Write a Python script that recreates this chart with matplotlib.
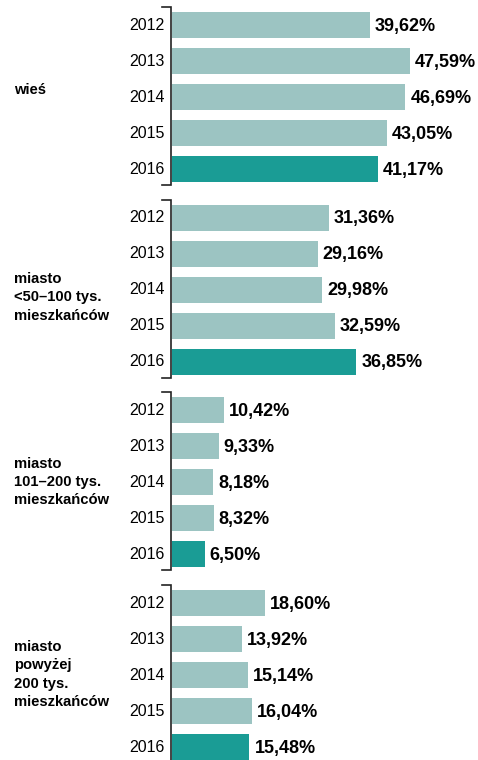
import matplotlib
matplotlib.use("Agg")
import matplotlib.pyplot as plt

# share of respondents by place of residence, 2012-2016
groups = ["wieś", "miasto\n<50–100 tys.\nmieszkańców",
          "miasto\n101–200 tys.\nmieszkańców",
          "miasto\npowyżej\n200 tys.\nmieszkańców"]
years = ["2012", "2013", "2014", "2015", "2016"]
values = [
    [39.62, 47.59, 46.69, 43.05, 41.17],
    [31.36, 29.16, 29.98, 32.59, 36.85],
    [10.42, 9.33, 8.18, 8.32, 6.50],
    [18.60, 13.92, 15.14, 16.04, 15.48],
]

LIGHT = "#9cc4c2"
DARK = "#1a9c95"
FONT = "Liberation Sans"

W, H = 478, 760
fig = plt.figure(figsize=(W / 100, H / 100), dpi=100)
x0 = 172
scale = 5.0  # pixels per percent
ax = fig.add_axes([x0 / W, 0, 1 - x0 / W, 1])
ax.set_xlim(0, (W - x0) / scale)
ax.set_ylim(H, 0)
ax.axis("off")

# overlay in pixel units for labels and brackets
fax = fig.add_axes([0, 0, 1, 1])
fax.set_xlim(0, W)
fax.set_ylim(H, 0)
fax.axis("off")

group_step = 192.5
row_step = 36
bar_h = 26
label_shift = [-7, 8, 0, 0]

for g, (name, vals) in enumerate(zip(groups, values)):
    base = 25 + g * group_step
    ys = [base + i * row_step for i in range(len(years))]
    colors = [LIGHT] * (len(years) - 1) + [DARK]
    ax.barh(ys, vals, height=bar_h, color=colors, linewidth=0)
    for y, v, yr in zip(ys, vals, years):
        ax.text(v + 1.0, y + 1.5, f"{v:.2f}".replace(".", ",") + "%",
                ha="left", va="center", fontsize=13, fontweight="bold",
                family=FONT)
        fax.text(165, y + 0.5, yr, ha="right", va="center", fontsize=11.5,
                 family=FONT)
    # bracket
    top = ys[0] - bar_h / 2 - 5
    bot = ys[-1] + bar_h / 2 + 3
    fax.plot([162, 171, 171, 162], [top, top, bot, bot], color="#222222",
             lw=1.2, solid_joinstyle="miter")
    fax.text(14, (ys[0] + ys[-1]) / 2 + label_shift[g], name, ha="left",
             va="center", fontsize=10.6, fontweight="bold", linespacing=1.38,
             family=FONT)

fig.savefig("out.png", dpi=100)
